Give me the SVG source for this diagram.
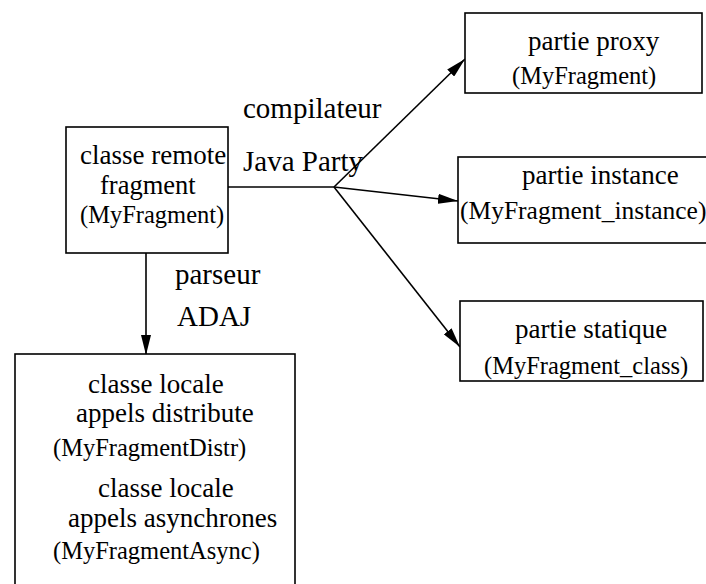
<svg xmlns="http://www.w3.org/2000/svg" width="706" height="584" viewBox="0 0 706 584">
  <defs>
    <marker id="arrow" viewBox="0 0 20 10" refX="20" refY="5" markerWidth="20" markerHeight="10" markerUnits="userSpaceOnUse" orient="auto">
      <path d="M0,0 L20,5 L0,10 z" fill="#000"/>
    </marker>
  </defs>
  <style>
    .box { fill: #fff; stroke: #000; stroke-width: 1.6; }
    .line { fill: none; stroke: #000; stroke-width: 1.6; }
    text { font-family: "Liberation Serif", "Times New Roman", serif; fill: #000; }
    .main { font-size: 27px; }
    .sub { font-size: 24.5px; }
    .lbl { font-size: 29px; }
  </style>
  <rect width="706" height="584" fill="#fff"/>

  <!-- connectors -->
  <g id="connectors">
    <polyline class="line" points="228,187 334,187"/>
    <line class="line" x1="334" y1="187" x2="465" y2="59" marker-end="url(#arrow)"/>
    <line class="line" x1="334" y1="187" x2="458" y2="201" marker-end="url(#arrow)"/>
    <line class="line" x1="334" y1="187" x2="460" y2="347" marker-end="url(#arrow)"/>
    <line class="line" x1="146" y1="253" x2="146" y2="355" marker-end="url(#arrow)"/>
  </g>

  <!-- edge labels -->
  <g id="labels">
    <text class="lbl" x="243" y="118">compilateur</text>
    <text class="lbl" x="243" y="171">Java Party</text>
    <text class="lbl" x="175" y="284">parseur</text>
    <text class="lbl" x="177" y="326">ADAJ</text>
  </g>

  <!-- source class -->
  <g id="remote">
    <rect class="box" x="66" y="127" width="162" height="126"/>
    <text class="main" x="80" y="164">classe remote</text>
    <text class="main" x="100" y="194" style="font-size:26.5px">fragment</text>
    <text class="sub" x="80" y="223">(MyFragment)</text>
  </g>

  <!-- generated parts -->
  <g id="proxy">
    <rect class="box" x="465" y="13" width="237" height="80"/>
    <text class="main" x="528" y="50">partie proxy</text>
    <text class="sub" x="512" y="84">(MyFragment)</text>
  </g>

  <g id="instance">
    <rect class="box" x="458" y="157" width="252" height="86"/>
    <text class="main" x="522" y="184">partie instance</text>
    <text class="sub" x="460" y="219" style="font-size:25.5px">(MyFragment_instance)</text>
  </g>

  <g id="statique">
    <rect class="box" x="460" y="301" width="243" height="80"/>
    <text class="main" x="515" y="338">partie statique</text>
    <text class="sub" x="484" y="374">(MyFragment_class)</text>
  </g>

  <!-- local classes -->
  <g id="locale">
    <rect class="box" x="15" y="354" width="280" height="240"/>
    <text class="main" x="88" y="393">classe locale</text>
    <text class="main" x="76" y="422">appels distribute</text>
    <text class="sub" x="53" y="456">(MyFragmentDistr)</text>
    <text class="main" x="98" y="497">classe locale</text>
    <text class="main" x="68" y="527">appels asynchrones</text>
    <text class="sub" x="53" y="559">(MyFragmentAsync)</text>
  </g>
</svg>
